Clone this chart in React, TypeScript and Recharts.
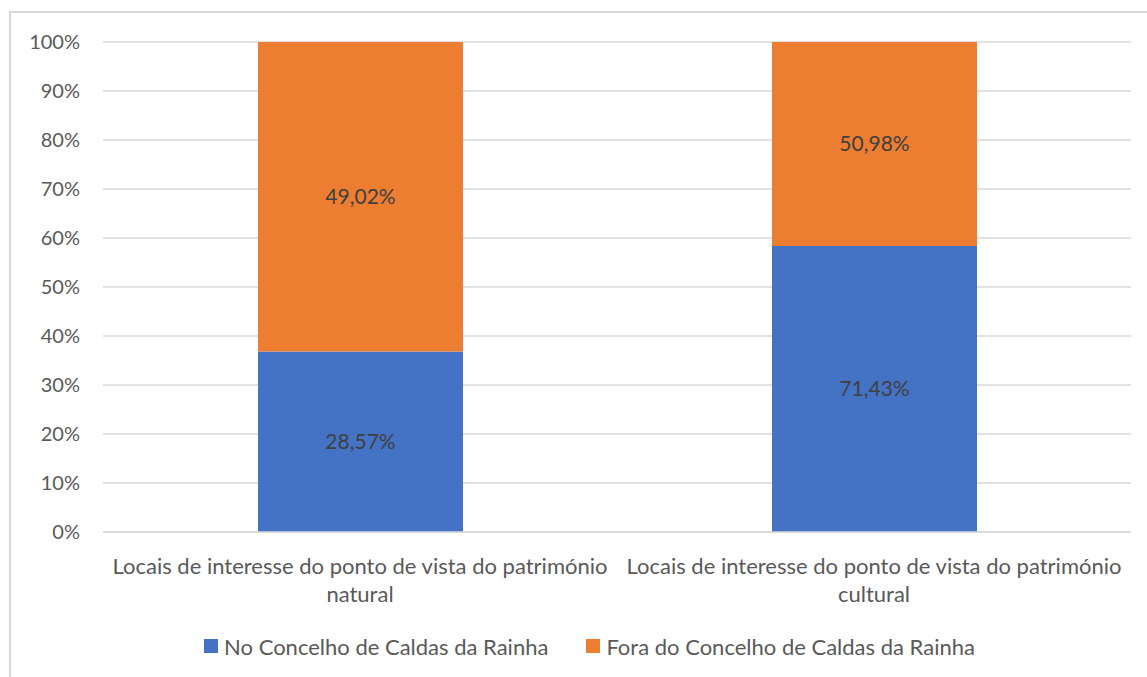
import { Bar, BarChart, CartesianGrid, LabelList, Legend, XAxis, YAxis } from "recharts";

const categories = [
  "Locais de interesse do ponto de vista do património natural",
  "Locais de interesse do ponto de vista do património cultural",
];
const noConcelho = [28.57, 71.43];
const foraConcelho = [49.02, 50.98];
const yTicks = [0, 0.1, 0.2, 0.3, 0.4, 0.5, 0.6, 0.7, 0.8, 0.9, 1];

const seriesNames = {
  no: "No Concelho de Caldas da Rainha",
  fora: "Fora do Concelho de Caldas da Rainha",
};

const data = categories.map((name, i) => ({
  name,
  no: noConcelho[i],
  fora: foraConcelho[i],
}));

const FONT = "Lato, 'Open Sans', sans-serif";
const BLUE = "#4472C4";
const ORANGE = "#ED7D31";

const fmt = (v: number) => v.toFixed(2).replace(".", ",") + "%";

function CategoryTick({ x, y, payload }: any) {
  const words = String(payload.value).split(" ");
  const last = words.pop();
  return (
    <text x={x} y={y} textAnchor="middle" fill="#595959" fontSize={22} fontFamily={FONT}>
      <tspan x={x} dy={40}>{words.join(" ")}</tspan>
      <tspan x={x} dy={28}>{last}</tspan>
    </text>
  );
}

function LegendBox() {
  const items = [
    { label: seriesNames.no, color: BLUE },
    { label: seriesNames.fora, color: ORANGE },
  ];
  return (
    <div
      style={{
        display: "flex",
        justifyContent: "center",
        gap: 38,
        height: 24,
        alignItems: "center",
        fontFamily: FONT,
        fontSize: 22,
        color: "#595959",
        paddingLeft: 48,
      }}
    >
      {items.map((it) => (
        <div key={it.label} style={{ display: "flex", alignItems: "center" }}>
          <span style={{ width: 14, height: 14, background: it.color, marginRight: 6 }} />
          <span>{it.label}</span>
        </div>
      ))}
    </div>
  );
}

export default function App() {
  return (
    <div
      style={{
        position: "absolute",
        left: 0,
        top: 0,
        width: 1147,
        height: 677,
        overflow: "hidden",
        background: "#fff",
      }}
    >
      <div
        style={{
          position: "absolute",
          left: 9,
          top: 11,
          width: 1200,
          height: 700,
          border: "2px solid #d9d9d9",
        }}
      />
      <div style={{ position: "absolute", left: 0, top: 0 }}>
        <BarChart
          width={1147}
          height={677}
          data={data}
          stackOffset="expand"
          margin={{ top: 42, right: 16, left: 0, bottom: 19 }}
        >
          <CartesianGrid vertical={false} stroke="#d9d9d9" strokeWidth={1.5} />
          <XAxis
            dataKey="name"
            axisLine={{ stroke: "#d9d9d9", strokeWidth: 1.5 }}
            tickLine={false}
            tickSize={0}
            height={102}
            interval={0}
            tick={<CategoryTick />}
          />
          <YAxis
            width={103}
            ticks={yTicks}
            domain={[0, 1]}
            axisLine={false}
            tickLine={false}
            tickSize={0}
            tickMargin={23}
            tickFormatter={(v: number) => `${Math.round(v * 100)}%`}
            tick={{ fill: "#595959", fontSize: 20, fontFamily: FONT }}
          />
          <Legend verticalAlign="bottom" content={<LegendBox />} />
          <Bar dataKey="no" name={seriesNames.no} stackId="a" fill={BLUE} barSize={205} isAnimationActive={false}>
            <LabelList
              dataKey="no"
              position="center"
              formatter={(v: any) => fmt(Number(v))}
              fill="#404040"
              fontSize={21}
              fontFamily={FONT}
            />
          </Bar>
          <Bar dataKey="fora" name={seriesNames.fora} stackId="a" fill={ORANGE} barSize={205} isAnimationActive={false}>
            <LabelList
              dataKey="fora"
              position="center"
              formatter={(v: any) => fmt(Number(v))}
              fill="#404040"
              fontSize={21}
              fontFamily={FONT}
            />
          </Bar>
        </BarChart>
      </div>
    </div>
  );
}
